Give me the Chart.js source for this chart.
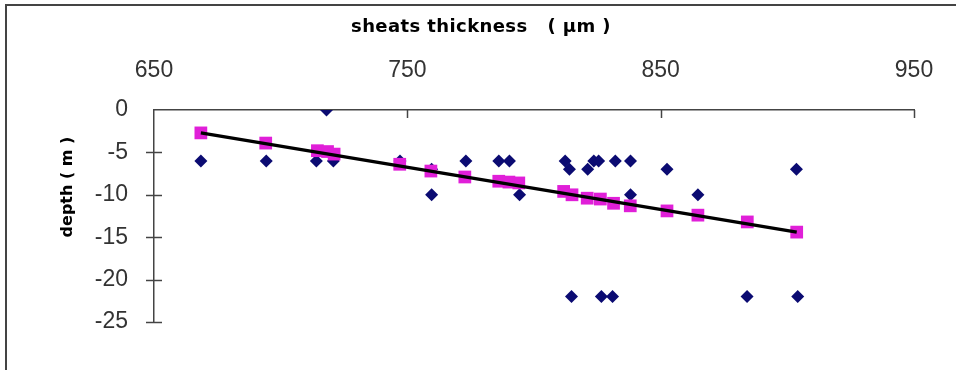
<!DOCTYPE html>
<html>
<head>
<meta charset="utf-8">
<script src="https://cdn.jsdelivr.net/npm/chart.js@4/dist/chart.umd.min.js"></script>
<style>
  html, body { margin: 0; padding: 0; background: #fff; overflow: hidden; }
  #wrap { position: relative; width: 956px; height: 370px; }
  #frame { position: absolute; left: 5px; top: 4px; width: 1100px; height: 500px; border: 2px solid #444; box-sizing: border-box; }
  canvas { position: absolute; left: 0; top: 0; }
</style>
</head>
<body>
<div id="wrap">
  <div id="frame"></div>
  <canvas id="chart" width="956" height="370"></canvas>
</div>
<script>
// measured depth vs sheath thickness (blue diamonds)
const measuredX = [668.5, 694.3, 714.1, 718.1, 720.8, 747.1, 759.6, 759.6, 773.1, 786.1, 790.3, 794.3,
  812.3, 814.0, 814.8, 821.2, 823.6, 825.5, 826.6, 831.0, 832.1, 838.1, 838.1, 852.5, 864.7, 884.1, 903.6, 904.1];
const measuredY = [-6, -6, -6, 0, -6, -6, -10, -7, -6, -6, -6, -10,
  -6, -7, -22, -7, -6, -6, -22, -22, -6, -6, -10, -7, -10, -22, -7, -22];

// fitted depth (pink squares)
const fittedX = [668.5, 694.1, 714.5, 718.5, 721.1, 747.0, 759.3, 772.7, 786.1, 790.1, 794.0,
  811.7, 815.0, 821.0, 826.2, 831.4, 838.0, 852.5, 864.7, 884.2, 903.7];
const fittedY = [-2.7, -3.9, -4.8, -4.9, -5.2, -6.4, -7.2, -7.9, -8.4, -8.5, -8.6,
  -9.6, -10.0, -10.4, -10.5, -11.0, -11.3, -11.9, -12.4, -13.2, -14.4];

// trend line end points
const trendX = [668.5, 903.7];
const trendY = [-2.7, -14.4];

const xTicks = [650, 750, 850, 950];
const yTicks = [0, -5, -10, -15, -20, -25];

const xTitle = 'sheats thickness   ( µm )';
const yTitle = 'depth ( m )';

const tickFont = { family: 'Arial, "Liberation Sans", sans-serif', size: 23 };

const toPoints = (xs, ys) => xs.map((x, i) => ({ x: x, y: ys[i] }));

// tick marks crossing the axes, plus both axis titles
const axisDecor = {
  id: 'axisDecor',
  afterDraw(chart) {
    const ctx = chart.ctx;
    const xs = chart.scales.x;
    const ys = chart.scales.y;
    ctx.save();
    ctx.strokeStyle = '#444';
    ctx.lineWidth = 1.5;
    xTicks.forEach(v => {
      if (v === 650) return;
      const px = Math.round(xs.getPixelForValue(v)) + 0.5;
      ctx.beginPath();
      ctx.moveTo(px, ys.top);
      ctx.lineTo(px, ys.top + 8);
      ctx.stroke();
    });
    yTicks.forEach(v => {
      if (v === 0) return;
      const py = Math.round(ys.getPixelForValue(v)) + 0.5;
      ctx.beginPath();
      ctx.moveTo(xs.left - 8, py);
      ctx.lineTo(xs.left + 8, py);
      ctx.stroke();
    });

    ctx.fillStyle = '#000';
    ctx.textAlign = 'center';
    ctx.textBaseline = 'middle';
    ctx.font = 'bold 18px "DejaVu Sans", Verdana, sans-serif';
    ctx.letterSpacing = '0.4px';
    ctx.fillText(xTitle, 481, 27);

    ctx.font = 'bold 16px "DejaVu Sans", Verdana, sans-serif';
    ctx.letterSpacing = '0px';
    ctx.translate(68, 187);
    ctx.rotate(-Math.PI / 2);
    ctx.fillText(yTitle, 0, 0);
    ctx.restore();
  }
};

new Chart(document.getElementById('chart').getContext('2d'), {
  type: 'scatter',
  data: {
    datasets: [
      {
        label: 'trend',
        type: 'line',
        data: toPoints(trendX, trendY),
        borderColor: '#000',
        borderWidth: 3.5,
        pointRadius: 0,
        fill: false,
        order: 1,
      },
      {
        label: 'fitted',
        data: toPoints(fittedX, fittedY),
        pointStyle: 'rect',
        pointRadius: 9,
        backgroundColor: '#e01fd8',
        borderColor: '#e01fd8',
        borderWidth: 0,
        order: 2,
      },
      {
        label: 'measured',
        data: toPoints(measuredX, measuredY),
        pointStyle: 'rectRot',
        pointRadius: 6.5,
        backgroundColor: '#0b0b72',
        borderColor: '#0b0b72',
        borderWidth: 0,
        order: 3,
      },
    ],
  },
  options: {
    responsive: false,
    animation: false,
    layout: { padding: { left: 0, right: 42, top: 40, bottom: 48 } },
    plugins: {
      legend: { display: false },
      tooltip: { enabled: false },
      title: { display: false },
    },
    scales: {
      x: {
        type: 'linear',
        position: 'top',
        min: 650,
        max: 950,
        afterBuildTicks: s => { s.ticks = xTicks.map(v => ({ value: v })); },
        afterFit: s => { s.height = 70; s.paddingLeft = 0; s.paddingRight = 0; },
        grid: { display: false, drawTicks: false },
        border: { display: true, color: '#444', width: 1.5 },
        ticks: { color: '#333', padding: 26, font: tickFont },
      },
      y: {
        type: 'linear',
        min: -25,
        max: 0,
        afterBuildTicks: s => { s.ticks = yTicks.map(v => ({ value: v })); },
        afterFit: s => { s.width = 154; },
        grid: { display: false, drawTicks: false },
        border: { display: true, color: '#444', width: 1.5 },
        ticks: { color: '#333', padding: 26, font: tickFont },
      },
    },
  },
  plugins: [axisDecor],
});
</script>
</body>
</html>
